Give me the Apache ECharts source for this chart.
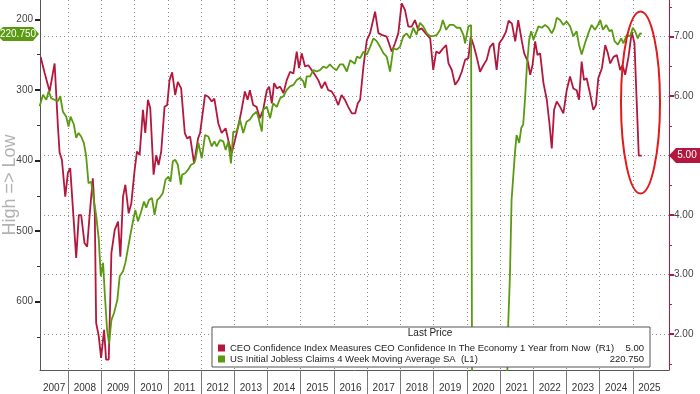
<!DOCTYPE html>
<html><head><meta charset="utf-8">
<script src="https://cdn.jsdelivr.net/npm/echarts@6/dist/echarts.min.js"></script>
<style>html,body{margin:0;padding:0;background:#fff}#c{width:700px;height:394px}</style>
</head><body><div id="c"></div>
<script>
// ---------- data ----------
const yearLabels = ['2007','2008','2009','2010','2011','2012','2013','2014','2015','2016','2017','2018','2019','2020','2021','2022','2023','2024','2025'];
const seriesNames = ['CEO Confidence Index Measures CEO Confidence In The Economy 1 Year from Now', 'US Initial Jobless Claims 4 Week Moving Average SA'];
const seriesTags = ['(R1)', '(L1)'];
const leftTicks = [200, 300, 400, 500, 600];
const leftMinorTicks = [250, 350, 450, 550, 650];
const rightTicks = [2, 3, 4, 5, 6, 7];
const rightMinorTicks = [1.5, 2.5, 3.5, 4.5, 5.5, 6.5, 7.5];

const ceoDates = [2007.17,2007.29,2007.44,2007.59,2007.69,2007.74,2007.81,2007.91,2007.99,2008.06,2008.24,2008.32,2008.39,2008.49,2008.57,2008.64,2008.74,2008.80,2008.84,2008.92,2008.99,2009.08,2009.14,2009.22,2009.30,2009.40,2009.50,2009.57,2009.65,2009.72,2009.82,2009.90,2010.00,2010.07,2010.15,2010.25,2010.32,2010.40,2010.47,2010.57,2010.65,2010.72,2010.80,2010.90,2010.98,2011.05,2011.13,2011.22,2011.30,2011.40,2011.51,2011.58,2011.67,2011.79,2011.91,2011.97,2012.12,2012.22,2012.32,2012.40,2012.52,2012.62,2012.74,2012.82,2012.92,2013.02,2013.12,2013.22,2013.32,2013.40,2013.47,2013.57,2013.67,2013.77,2013.87,2013.98,2014.05,2014.13,2014.20,2014.28,2014.38,2014.48,2014.58,2014.68,2014.78,2014.88,2014.95,2015.03,2015.13,2015.23,2015.33,2015.43,2015.53,2015.63,2015.73,2015.83,2015.93,2016.03,2016.13,2016.23,2016.33,2016.43,2016.54,2016.64,2016.72,2016.79,2016.89,2016.99,2017.09,2017.24,2017.34,2017.44,2017.59,2017.74,2017.84,2017.94,2018.04,2018.14,2018.24,2018.34,2018.44,2018.54,2018.64,2018.80,2018.90,2018.99,2019.08,2019.17,2019.28,2019.38,2019.45,2019.55,2019.65,2019.75,2019.85,2019.95,2020.05,2020.12,2020.22,2020.32,2020.40,2020.50,2020.60,2020.70,2020.80,2020.90,2020.98,2021.08,2021.18,2021.26,2021.36,2021.46,2021.55,2021.66,2021.73,2021.84,2021.91,2021.98,2022.06,2022.13,2022.21,2022.31,2022.41,2022.49,2022.56,2022.63,2022.71,2022.81,2022.91,2023.01,2023.11,2023.21,2023.31,2023.38,2023.46,2023.53,2023.61,2023.71,2023.81,2023.89,2023.96,2024.07,2024.17,2024.25,2024.32,2024.42,2024.52,2024.62,2024.69,2024.77,2024.87,2024.97,2025.05,2025.18,2025.27];
const ceoValues = [6.66,6.39,6.08,6.55,5.49,5.05,4.93,4.31,4.71,4.79,3.28,4.00,4.00,3.53,3.47,3.97,4.62,4.03,2.19,1.96,1.60,2.07,1.57,1.57,3.36,3.75,3.89,3.30,4.31,4.51,4.03,4.20,4.76,5.07,5.01,5.77,5.38,5.94,5.80,4.68,5.01,4.84,5.07,5.82,5.85,6.27,6.40,6.02,6.24,6.13,5.38,5.29,5.32,4.87,5.29,5.38,6.02,5.99,5.91,5.96,5.54,5.38,5.46,5.26,5.04,5.26,5.49,5.77,6.08,5.94,6.10,5.85,5.82,5.63,5.77,6.10,6.16,5.88,6.22,6.13,6.16,6.05,6.27,6.41,6.38,6.75,6.47,6.72,6.50,6.52,6.44,6.36,6.27,6.13,6.24,6.10,6.08,5.99,5.85,6.02,5.94,5.82,5.71,5.71,5.88,5.94,6.50,6.94,7.06,7.42,7.06,7.03,7.00,6.75,6.89,7.06,7.56,7.45,7.17,7.17,7.28,7.11,7.14,7.03,6.97,6.44,6.75,6.72,6.80,6.86,6.55,6.44,6.19,6.27,6.41,6.61,6.64,7.00,6.83,6.61,6.41,6.52,6.61,6.83,6.89,6.44,6.89,6.97,7.08,7.27,7.22,6.92,7.28,6.92,6.72,6.58,6.36,6.52,6.92,6.69,6.72,6.22,5.94,5.54,5.12,5.77,5.91,5.82,5.71,6.10,6.33,6.13,6.10,5.94,6.58,6.27,6.30,6.05,5.77,5.85,6.30,6.47,6.86,6.72,6.55,6.66,6.69,6.44,6.52,6.36,6.66,7.08,6.89,5.00,5.00];

const claimsDates = [2007.14,2007.24,2007.34,2007.41,2007.49,2007.59,2007.69,2007.76,2007.84,2007.94,2008.01,2008.07,2008.17,2008.24,2008.31,2008.39,2008.47,2008.54,2008.61,2008.69,2008.77,2008.84,2008.92,2008.98,2009.05,2009.10,2009.17,2009.23,2009.30,2009.38,2009.48,2009.55,2009.65,2009.72,2009.80,2009.88,2009.95,2010.02,2010.10,2010.18,2010.28,2010.35,2010.43,2010.52,2010.60,2010.68,2010.75,2010.85,2010.93,2011.02,2011.08,2011.15,2011.22,2011.30,2011.39,2011.43,2011.52,2011.61,2011.70,2011.78,2011.83,2011.92,2012.02,2012.12,2012.22,2012.32,2012.40,2012.47,2012.57,2012.67,2012.74,2012.82,2012.90,2012.97,2013.07,2013.17,2013.27,2013.37,2013.47,2013.57,2013.67,2013.72,2013.83,2013.87,2013.98,2014.08,2014.17,2014.28,2014.38,2014.48,2014.58,2014.68,2014.78,2014.88,2014.98,2015.08,2015.13,2015.18,2015.28,2015.38,2015.48,2015.58,2015.68,2015.78,2015.88,2015.98,2016.08,2016.18,2016.28,2016.39,2016.49,2016.55,2016.63,2016.69,2016.79,2016.89,2016.99,2017.09,2017.19,2017.29,2017.39,2017.49,2017.59,2017.69,2017.79,2017.89,2017.99,2018.09,2018.19,2018.29,2018.39,2018.49,2018.59,2018.69,2018.80,2018.90,2018.99,2019.10,2019.20,2019.28,2019.38,2019.48,2019.60,2019.70,2019.80,2019.90,2019.95,2020.05,2020.13,2020.17,2020.22,2020.28,2020.36,2020.45,2020.55,2020.65,2020.75,2020.85,2020.95,2021.05,2021.15,2021.21,2021.25,2021.30,2021.35,2021.45,2021.50,2021.58,2021.64,2021.70,2021.76,2021.81,2021.88,2021.94,2022.01,2022.08,2022.16,2022.26,2022.36,2022.46,2022.56,2022.64,2022.71,2022.81,2022.91,2023.01,2023.11,2023.21,2023.31,2023.38,2023.46,2023.56,2023.66,2023.76,2023.86,2023.95,2024.02,2024.10,2024.20,2024.30,2024.37,2024.45,2024.55,2024.65,2024.72,2024.82,2024.92,2025.00,2025.07,2025.15,2025.22,2025.27];
const claimsValues = [323,307,314,302,312,314,316,309,331,338,352,338,349,368,361,366,375,394,432,430,456,477,512,564,545,588,640,659,626,616,597,564,557,545,524,503,486,470,486,475,458,467,456,453,477,456,453,446,427,423,430,401,399,406,434,420,418,413,406,404,399,375,397,364,366,380,373,380,371,373,385,373,404,359,359,342,361,345,342,335,331,338,359,328,324,340,319,324,312,309,300,295,293,286,283,288,297,281,281,272,274,272,267,269,264,269,272,264,264,274,258,256,263,253,255,246,250,239,227,231,239,248,253,274,241,243,239,224,220,227,212,222,205,210,220,224,224,222,215,201,215,208,208,212,212,222,234,210,208,210,1700,5500,4000,2000,1400,1100,850,760,830,850,780,730,630,564,456,390,364,375,354,349,309,267,229,217,229,220,210,212,208,212,220,212,198,201,208,203,210,224,217,236,250,234,220,208,215,208,201,215,208,217,215,231,236,227,234,222,224,212,217,227,220,220.75];

// ---------- layout / style ----------
const FONT = 'Liberation Sans, Arial, sans-serif';
const RED = '#b4173d';
const GREEN = '#5a9a12';
const X_MIN = 2007.15, X_MAX = 2026.09;
const GRID = {left: 40, right: 31, top: 0, bottom: 24, outerBoundsMode: 'none', containLabel: false};

const firstYear = Number(yearLabels[0]);
const yearBounds = yearLabels.slice(1).map(Number);
const labelCenters = yearLabels.map(l => {
  const y = Number(l);
  return (Math.max(y, X_MIN) + Math.min(y + 1, X_MAX)) / 2;
});

const ceoData = ceoDates.map((d, i) => [d, ceoValues[i]]);
const claimsData = claimsDates.map((d, i) => [d, claimsValues[i]]);
const lastCeo = ceoValues[ceoValues.length - 1];
const lastClaims = claimsValues[claimsValues.length - 1];
const lastVals = [lastCeo.toFixed(2), lastClaims.toFixed(3)];

const dotted = {type: [1, 3], color: '#8c8c8c', width: 1};
const LEG_FS = 9.5;

const chart = echarts.init(document.getElementById('c'), null, {renderer: 'canvas'});
const option = {
  animation: false,
  backgroundColor: '#fff',
  textStyle: {fontFamily: FONT},
  grid: GRID,
  legend: {
    data: seriesNames,
    orient: 'vertical',
    left: 212, top: 327,
    padding: [16, 6, 3, 6],
    itemGap: 1, itemWidth: 7, itemHeight: 7,
    icon: 'rect',
    selectedMode: false,
    backgroundColor: '#fff',
    borderColor: '#555', borderWidth: 1,
    formatter: name => {
      const i = seriesNames.indexOf(name);
      return '{n|' + name + '  ' + seriesTags[i] + '}{v|' + lastVals[i] + '}';
    },
    textStyle: {
      fontFamily: FONT, fontSize: LEG_FS, color: '#222',
      rich: {
        n: {width: 372, fontFamily: FONT, fontSize: LEG_FS, color: '#222'},
        v: {width: 42, align: 'right', fontFamily: FONT, fontSize: LEG_FS, color: '#222'}
      }
    }
  },
  xAxis: [{
    type: 'value', min: X_MIN, max: X_MAX,
    axisLine: {show: true, onZero: false, lineStyle: {color: '#555', width: 1}},
    axisTick: {show: true, customValues: yearBounds, length: 24, lineStyle: {color: '#777'}},
    axisLabel: {
      customValues: labelCenters, margin: 13, color: '#333', fontSize: 10, fontFamily: FONT,
      formatter: v => yearLabels[Math.floor(v) - firstYear]
    },
    splitLine: {show: true, lineStyle: dotted}
  }],
  yAxis: [
    { // left main (inverted)
      type: 'value', position: 'left', inverse: true, min: 172.7, max: 696.7,
      name: 'High => Low', nameLocation: 'middle', nameGap: 21, nameRotate: 90, nameMoveOverlap: false,
      nameTextStyle: {color: '#b2b2b2', fontSize: 18, fontFamily: FONT},
      axisLine: {show: true, lineStyle: {color: '#555'}},
      axisTick: {show: true, customValues: leftTicks, length: 5, lineStyle: {color: '#222', width: 2}},
      axisLabel: {customValues: leftTicks, color: '#444', fontSize: 10, margin: 7, fontFamily: FONT},
      splitLine: {show: false}
    },
    { // left minor ticks
      type: 'value', position: 'left', inverse: true, min: 172.7, max: 696.7,
      axisLine: {show: false},
      axisTick: {show: true, customValues: leftMinorTicks, length: 3, lineStyle: {color: '#333'}},
      axisLabel: {show: false}, splitLine: {show: false}
    },
    { // right main
      type: 'value', position: 'right', min: 1.395, max: 7.617,
      axisLine: {show: true, lineStyle: {color: RED, width: 1}},
      axisTick: {show: true, customValues: rightTicks, length: 5, lineStyle: {color: RED, width: 2}},
      axisLabel: {customValues: rightTicks, formatter: v => v.toFixed(2), color: '#444', fontSize: 10, margin: 5, fontFamily: FONT},
      splitLine: {show: true, lineStyle: dotted}
    },
    { // right minor ticks
      type: 'value', position: 'right', min: 1.395, max: 7.617,
      axisLine: {show: false},
      axisTick: {show: true, customValues: rightMinorTicks, length: 3, lineStyle: {color: RED}},
      axisLabel: {show: false}, splitLine: {show: false}
    }
  ],
  series: [
    {
      name: seriesNames[0], type: 'line', yAxisIndex: 2, data: ceoData,
      showSymbol: false, symbol: 'none', clip: true,
      lineStyle: {color: RED, width: 1.8}, itemStyle: {color: RED}, z: 3
    },
    {
      name: seriesNames[1], type: 'line', yAxisIndex: 0, data: claimsData,
      showSymbol: false, symbol: 'none', clip: true,
      lineStyle: {color: GREEN, width: 1.8}, itemStyle: {color: GREEN}, z: 3
    }
  ]
};
chart.setOption(option);

// value badges, title of the legend box, and the highlight ellipse
const yG = chart.convertToPixel({yAxisIndex: 0}, lastClaims);
const yR = chart.convertToPixel({yAxisIndex: 2}, lastCeo);
const plotRight = 700 - GRID.right;
chart.setOption({
  graphic: [
    {type: 'text', x: 430, y: 333, z: 100, style: {text: 'Last Price', textAlign: 'center', textVerticalAlign: 'middle', font: '10px ' + FONT, fill: '#222'}},
    {type: 'polygon', z: 100, shape: {points: [[3, yG - 7], [33, yG - 7], [39, yG], [33, yG + 7], [3, yG + 7], [0, yG + 4], [0, yG - 4]]}, style: {fill: GREEN}},
    {type: 'text', x: 18, y: yG, z: 101, style: {text: lastClaims.toFixed(3), textAlign: 'center', textVerticalAlign: 'middle', font: '10px ' + FONT, fill: '#fff'}},
    {type: 'polygon', z: 100, shape: {points: [[plotRight, yR], [plotRight + 7, yR - 7.5], [700, yR - 7.5], [700, yR + 7.5], [plotRight + 7, yR + 7.5]]}, style: {fill: RED}},
    {type: 'text', x: 687, y: yR, z: 101, style: {text: lastCeo.toFixed(2), textAlign: 'center', textVerticalAlign: 'middle', font: '10px ' + FONT, fill: '#fff'}},
    {type: 'ellipse', z: 100, shape: {cx: 640.5, cy: 102.5, rx: 19.5, ry: 91}, style: {fill: 'none', stroke: '#e01b1b', lineWidth: 2}}
  ]
});
</script>
</body></html>
